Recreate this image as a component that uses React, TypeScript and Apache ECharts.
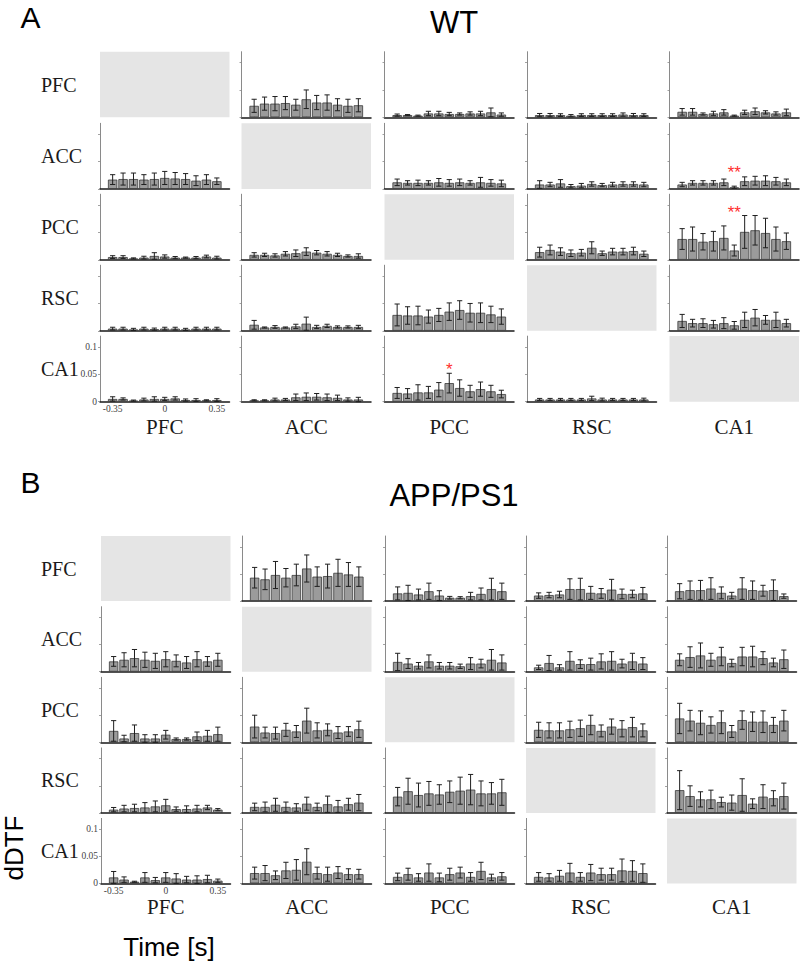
import React, { useEffect, useRef } from "react";
import * as echarts from "echarts";

// ---------- labels ----------
const regions = ["PFC", "ACC", "PCC", "RSC", "CA1"];
const timeBins = [-0.35, -0.28, -0.21, -0.14, -0.07, 0, 0.07, 0.14, 0.21, 0.28, 0.35];
const xTickValues = [-0.35, 0, 0.35];
const xTickLabels = ["-0.35", "0", "0.35"];
const yTickValues = [0, 0.05, 0.1];
const yTickLabels = ["0", "0.05", "0.1"];
const panelTitles = ["WT", "APP/PS1"];
const panelLetters = ["A", "B"];
const yAxisTitle = "dDTF";
const xAxisTitle = "Time [s]";

// ---------- WT (row region -> column region): mean and error ----------
const WT_PFC_ACC = [0.021, 0.025, 0.025, 0.026, 0.023, 0.033, 0.027, 0.027, 0.023, 0.021, 0.022];
const WT_PFC_ACC_SE = [0.012, 0.012, 0.013, 0.012, 0.010, 0.017, 0.013, 0.014, 0.011, 0.012, 0.012];
const WT_PFC_PCC = [0.004, 0.004, 0.003, 0.007, 0.007, 0.006, 0.006, 0.007, 0.007, 0.009, 0.005];
const WT_PFC_PCC_SE = [0.002, 0.001, 0.001, 0.004, 0.004, 0.003, 0.002, 0.003, 0.004, 0.008, 0.003];
const WT_PFC_RSC = [0.004, 0.004, 0.004, 0.003, 0.004, 0.004, 0.004, 0.004, 0.005, 0.004, 0.004];
const WT_PFC_RSC_SE = [0.003, 0.003, 0.0025, 0.002, 0.0025, 0.0025, 0.0025, 0.0025, 0.003, 0.003, 0.0025];
const WT_PFC_CA1 = [0.010, 0.010, 0.006, 0.007, 0.009, 0.003, 0.009, 0.011, 0.009, 0.007, 0.009];
const WT_PFC_CA1_SE = [0.006, 0.006, 0.002, 0.004, 0.005, 0.001, 0.004, 0.006, 0.003, 0.003, 0.006];

const WT_ACC_PFC = [0.017, 0.018, 0.018, 0.017, 0.018, 0.020, 0.019, 0.018, 0.015, 0.017, 0.014];
const WT_ACC_PFC_SE = [0.009, 0.011, 0.011, 0.009, 0.011, 0.012, 0.011, 0.010, 0.009, 0.009, 0.006];
const WT_ACC_PCC = [0.012, 0.011, 0.011, 0.011, 0.012, 0.011, 0.012, 0.011, 0.012, 0.011, 0.010];
const WT_ACC_PCC_SE = [0.006, 0.004, 0.005, 0.004, 0.007, 0.006, 0.006, 0.004, 0.009, 0.006, 0.006];
const WT_ACC_RSC = [0.008, 0.008, 0.010, 0.005, 0.006, 0.009, 0.007, 0.008, 0.009, 0.009, 0.008];
const WT_ACC_RSC_SE = [0.007, 0.004, 0.007, 0.003, 0.004, 0.004, 0.003, 0.004, 0.004, 0.004, 0.004];
const WT_ACC_CA1 = [0.008, 0.011, 0.011, 0.011, 0.012, 0.003, 0.014, 0.015, 0.015, 0.014, 0.012];
const WT_ACC_CA1_SE = [0.004, 0.004, 0.004, 0.004, 0.006, 0.002, 0.008, 0.008, 0.009, 0.007, 0.006];

const WT_PCC_PFC = [0.005, 0.005, 0.0025, 0.004, 0.007, 0.006, 0.004, 0.004, 0.004, 0.006, 0.004];
const WT_PCC_PFC_SE = [0.0025, 0.0025, 0.001, 0.0025, 0.006, 0.003, 0.002, 0.001, 0.002, 0.0025, 0.0025];
const WT_PCC_ACC = [0.009, 0.009, 0.008, 0.011, 0.012, 0.015, 0.013, 0.011, 0.009, 0.007, 0.007];
const WT_PCC_ACC_SE = [0.004, 0.003, 0.003, 0.004, 0.006, 0.007, 0.004, 0.004, 0.003, 0.002, 0.004];
const WT_PCC_RSC = [0.014, 0.018, 0.015, 0.012, 0.013, 0.022, 0.012, 0.015, 0.015, 0.016, 0.011];
const WT_PCC_RSC_SE = [0.009, 0.009, 0.007, 0.006, 0.006, 0.011, 0.004, 0.006, 0.006, 0.007, 0.005];
const WT_PCC_CA1 = [0.038, 0.038, 0.033, 0.034, 0.040, 0.017, 0.051, 0.054, 0.049, 0.038, 0.034];
const WT_PCC_CA1_SE = [0.019, 0.022, 0.015, 0.018, 0.022, 0.010, 0.030, 0.027, 0.027, 0.022, 0.015];

const WT_RSC_PFC = [0.004, 0.004, 0.0025, 0.004, 0.003, 0.004, 0.004, 0.0025, 0.004, 0.004, 0.004];
const WT_RSC_PFC_SE = [0.0025, 0.0025, 0.002, 0.0025, 0.002, 0.0025, 0.0025, 0.002, 0.0025, 0.0025, 0.0025];
const WT_RSC_ACC = [0.011, 0.006, 0.007, 0.006, 0.008, 0.013, 0.007, 0.009, 0.007, 0.007, 0.007];
const WT_RSC_ACC_SE = [0.008, 0.001, 0.0025, 0.001, 0.004, 0.012, 0.003, 0.003, 0.002, 0.002, 0.003];
const WT_RSC_PCC = [0.029, 0.028, 0.028, 0.026, 0.029, 0.035, 0.038, 0.033, 0.033, 0.030, 0.026];
const WT_RSC_PCC_SE = [0.020, 0.016, 0.017, 0.012, 0.012, 0.016, 0.017, 0.017, 0.018, 0.015, 0.014];
const WT_RSC_CA1 = [0.018, 0.014, 0.014, 0.012, 0.014, 0.010, 0.020, 0.024, 0.020, 0.020, 0.014];
const WT_RSC_CA1_SE = [0.012, 0.007, 0.008, 0.007, 0.010, 0.007, 0.014, 0.015, 0.008, 0.014, 0.007];

const WT_CA1_PFC = [0.005, 0.005, 0.002, 0.004, 0.005, 0.005, 0.006, 0.003, 0.003, 0.0025, 0.003];
const WT_CA1_PFC_SE = [0.004, 0.002, 0.001, 0.0025, 0.004, 0.003, 0.003, 0.002, 0.0025, 0.001, 0.0025];
const WT_CA1_ACC = [0.0025, 0.0025, 0.004, 0.004, 0.008, 0.009, 0.009, 0.008, 0.007, 0.004, 0.004];
const WT_CA1_ACC_SE = [0.001, 0.001, 0.0025, 0.002, 0.006, 0.007, 0.006, 0.006, 0.005, 0.003, 0.004];
const WT_CA1_PCC = [0.016, 0.015, 0.017, 0.017, 0.022, 0.034, 0.025, 0.019, 0.023, 0.019, 0.014];
const WT_CA1_PCC_SE = [0.010, 0.009, 0.014, 0.011, 0.013, 0.018, 0.015, 0.011, 0.013, 0.011, 0.007];
const WT_CA1_RSC = [0.004, 0.004, 0.004, 0.004, 0.004, 0.006, 0.004, 0.004, 0.004, 0.004, 0.004];
const WT_CA1_RSC_SE = [0.002, 0.002, 0.002, 0.002, 0.002, 0.004, 0.0025, 0.002, 0.002, 0.002, 0.0025];

// ---------- APP/PS1 ----------
const AD_PFC_ACC = [0.043, 0.040, 0.048, 0.043, 0.048, 0.060, 0.045, 0.046, 0.052, 0.049, 0.045];
const AD_PFC_ACC_SE = [0.019, 0.019, 0.025, 0.017, 0.020, 0.025, 0.018, 0.022, 0.025, 0.022, 0.018];
const AD_PFC_PCC = [0.014, 0.015, 0.012, 0.018, 0.010, 0.006, 0.006, 0.009, 0.013, 0.022, 0.018];
const AD_PFC_PCC_SE = [0.012, 0.014, 0.010, 0.015, 0.009, 0.0025, 0.002, 0.007, 0.011, 0.020, 0.015];
const AD_PFC_RSC = [0.010, 0.011, 0.012, 0.022, 0.022, 0.015, 0.014, 0.021, 0.013, 0.013, 0.014];
const AD_PFC_RSC_SE = [0.005, 0.005, 0.006, 0.019, 0.020, 0.012, 0.009, 0.019, 0.009, 0.007, 0.011];
const AD_PFC_CA1 = [0.018, 0.020, 0.020, 0.023, 0.015, 0.010, 0.023, 0.020, 0.019, 0.020, 0.009];
const AD_PFC_CA1_SE = [0.014, 0.017, 0.018, 0.020, 0.011, 0.006, 0.020, 0.017, 0.010, 0.019, 0.004];

const AD_ACC_PFC = [0.019, 0.022, 0.025, 0.022, 0.020, 0.023, 0.020, 0.017, 0.023, 0.019, 0.022];
const AD_ACC_PFC_SE = [0.009, 0.013, 0.016, 0.014, 0.014, 0.014, 0.011, 0.011, 0.014, 0.009, 0.012];
const AD_ACC_PCC = [0.018, 0.015, 0.011, 0.019, 0.011, 0.011, 0.010, 0.015, 0.015, 0.022, 0.017];
const AD_ACC_PCC_SE = [0.016, 0.009, 0.006, 0.012, 0.006, 0.006, 0.004, 0.011, 0.008, 0.019, 0.014];
const AD_ACC_RSC = [0.008, 0.016, 0.008, 0.020, 0.014, 0.014, 0.019, 0.020, 0.015, 0.019, 0.015];
const AD_ACC_RSC_SE = [0.004, 0.014, 0.005, 0.017, 0.008, 0.011, 0.014, 0.017, 0.008, 0.015, 0.011];
const AD_ACC_CA1 = [0.022, 0.027, 0.030, 0.022, 0.028, 0.016, 0.028, 0.028, 0.025, 0.017, 0.023];
const AD_ACC_CA1_SE = [0.011, 0.019, 0.023, 0.012, 0.017, 0.007, 0.017, 0.019, 0.012, 0.008, 0.017];

const AD_PCC_PFC = [0.021, 0.007, 0.017, 0.007, 0.007, 0.014, 0.006, 0.006, 0.011, 0.012, 0.015];
const AD_PCC_PFC_SE = [0.019, 0.006, 0.015, 0.007, 0.007, 0.008, 0.002, 0.002, 0.008, 0.010, 0.013];
const AD_PCC_ACC = [0.029, 0.018, 0.017, 0.023, 0.020, 0.040, 0.022, 0.023, 0.018, 0.020, 0.024];
const AD_PCC_ACC_SE = [0.021, 0.010, 0.011, 0.012, 0.011, 0.023, 0.014, 0.011, 0.011, 0.009, 0.015];
const AD_PCC_RSC = [0.023, 0.022, 0.022, 0.024, 0.026, 0.032, 0.021, 0.029, 0.025, 0.028, 0.022];
const AD_PCC_RSC_SE = [0.014, 0.014, 0.014, 0.015, 0.015, 0.018, 0.011, 0.014, 0.015, 0.018, 0.012];
const AD_PCC_CA1 = [0.044, 0.040, 0.036, 0.032, 0.037, 0.020, 0.041, 0.038, 0.038, 0.032, 0.040];
const AD_PCC_CA1_SE = [0.028, 0.019, 0.022, 0.015, 0.021, 0.011, 0.017, 0.018, 0.020, 0.014, 0.019];

const AD_RSC_PFC = [0.006, 0.008, 0.009, 0.010, 0.012, 0.014, 0.007, 0.007, 0.008, 0.010, 0.006];
const AD_RSC_PFC_SE = [0.004, 0.006, 0.007, 0.009, 0.010, 0.011, 0.004, 0.006, 0.006, 0.004, 0.002];
const AD_RSC_ACC = [0.011, 0.011, 0.015, 0.011, 0.010, 0.017, 0.011, 0.016, 0.012, 0.016, 0.019];
const AD_RSC_ACC_SE = [0.007, 0.009, 0.012, 0.009, 0.007, 0.012, 0.007, 0.015, 0.011, 0.011, 0.015];
const AD_RSC_PCC = [0.030, 0.040, 0.033, 0.036, 0.034, 0.039, 0.041, 0.043, 0.036, 0.036, 0.038];
const AD_RSC_PCC_SE = [0.017, 0.024, 0.022, 0.022, 0.018, 0.020, 0.025, 0.028, 0.023, 0.020, 0.024];
const AD_RSC_CA1 = [0.042, 0.031, 0.025, 0.025, 0.020, 0.019, 0.033, 0.017, 0.030, 0.027, 0.031];
const AD_RSC_CA1_SE = [0.036, 0.019, 0.014, 0.017, 0.009, 0.014, 0.030, 0.009, 0.022, 0.014, 0.024];

const AD_CA1_PFC = [0.011, 0.007, 0.003, 0.011, 0.006, 0.011, 0.009, 0.007, 0.007, 0.008, 0.005];
const AD_CA1_PFC_SE = [0.011, 0.005, 0.001, 0.009, 0.005, 0.009, 0.009, 0.006, 0.007, 0.007, 0.003];
const AD_CA1_ACC = [0.019, 0.019, 0.015, 0.024, 0.025, 0.040, 0.019, 0.017, 0.020, 0.017, 0.017];
const AD_CA1_ACC_SE = [0.011, 0.014, 0.008, 0.015, 0.019, 0.024, 0.011, 0.013, 0.011, 0.010, 0.009];
const AD_CA1_PCC = [0.012, 0.017, 0.011, 0.020, 0.011, 0.017, 0.020, 0.012, 0.023, 0.011, 0.013];
const AD_CA1_PCC_SE = [0.007, 0.011, 0.007, 0.016, 0.008, 0.011, 0.010, 0.008, 0.016, 0.006, 0.007];
const AD_CA1_RSC = [0.012, 0.011, 0.014, 0.020, 0.012, 0.020, 0.017, 0.017, 0.024, 0.023, 0.019];
const AD_CA1_RSC_SE = [0.008, 0.007, 0.010, 0.017, 0.008, 0.015, 0.011, 0.011, 0.021, 0.019, 0.017];

// significance marks: [row region, column region, bin index, mark]
const WT_STARS: [string, string, number, string][] = [
  ["ACC", "CA1", 5, "**"],
  ["PCC", "CA1", 5, "**"],
  ["CA1", "PCC", 5, "*"],
];
const AD_STARS: [string, string, number, string][] = [];

// lookup tables built from the named arrays
const WT_TABLE: Record<string, [number[], number[]]> = {
  PFC_ACC: [WT_PFC_ACC, WT_PFC_ACC_SE], PFC_PCC: [WT_PFC_PCC, WT_PFC_PCC_SE],
  PFC_RSC: [WT_PFC_RSC, WT_PFC_RSC_SE], PFC_CA1: [WT_PFC_CA1, WT_PFC_CA1_SE],
  ACC_PFC: [WT_ACC_PFC, WT_ACC_PFC_SE], ACC_PCC: [WT_ACC_PCC, WT_ACC_PCC_SE],
  ACC_RSC: [WT_ACC_RSC, WT_ACC_RSC_SE], ACC_CA1: [WT_ACC_CA1, WT_ACC_CA1_SE],
  PCC_PFC: [WT_PCC_PFC, WT_PCC_PFC_SE], PCC_ACC: [WT_PCC_ACC, WT_PCC_ACC_SE],
  PCC_RSC: [WT_PCC_RSC, WT_PCC_RSC_SE], PCC_CA1: [WT_PCC_CA1, WT_PCC_CA1_SE],
  RSC_PFC: [WT_RSC_PFC, WT_RSC_PFC_SE], RSC_ACC: [WT_RSC_ACC, WT_RSC_ACC_SE],
  RSC_PCC: [WT_RSC_PCC, WT_RSC_PCC_SE], RSC_CA1: [WT_RSC_CA1, WT_RSC_CA1_SE],
  CA1_PFC: [WT_CA1_PFC, WT_CA1_PFC_SE], CA1_ACC: [WT_CA1_ACC, WT_CA1_ACC_SE],
  CA1_PCC: [WT_CA1_PCC, WT_CA1_PCC_SE], CA1_RSC: [WT_CA1_RSC, WT_CA1_RSC_SE],
};
const AD_TABLE: Record<string, [number[], number[]]> = {
  PFC_ACC: [AD_PFC_ACC, AD_PFC_ACC_SE], PFC_PCC: [AD_PFC_PCC, AD_PFC_PCC_SE],
  PFC_RSC: [AD_PFC_RSC, AD_PFC_RSC_SE], PFC_CA1: [AD_PFC_CA1, AD_PFC_CA1_SE],
  ACC_PFC: [AD_ACC_PFC, AD_ACC_PFC_SE], ACC_PCC: [AD_ACC_PCC, AD_ACC_PCC_SE],
  ACC_RSC: [AD_ACC_RSC, AD_ACC_RSC_SE], ACC_CA1: [AD_ACC_CA1, AD_ACC_CA1_SE],
  PCC_PFC: [AD_PCC_PFC, AD_PCC_PFC_SE], PCC_ACC: [AD_PCC_ACC, AD_PCC_ACC_SE],
  PCC_RSC: [AD_PCC_RSC, AD_PCC_RSC_SE], PCC_CA1: [AD_PCC_CA1, AD_PCC_CA1_SE],
  RSC_PFC: [AD_RSC_PFC, AD_RSC_PFC_SE], RSC_ACC: [AD_RSC_ACC, AD_RSC_ACC_SE],
  RSC_PCC: [AD_RSC_PCC, AD_RSC_PCC_SE], RSC_CA1: [AD_RSC_CA1, AD_RSC_CA1_SE],
  CA1_PFC: [AD_CA1_PFC, AD_CA1_PFC_SE], CA1_ACC: [AD_CA1_ACC, AD_CA1_ACC_SE],
  CA1_PCC: [AD_CA1_PCC, AD_CA1_PCC_SE], CA1_RSC: [AD_CA1_RSC, AD_CA1_RSC_SE],
};

// ---------- layout (pixels) ----------
const PANELS = [
  {
    table: WT_TABLE, stars: WT_STARS,
    colLeft: [100, 241.5, 384.5, 527, 669.5], rowTop: [51.7, 123.3, 194.2, 265.2, 336.1],
    cellW: 129.5, cellH: 65.6, titleY: 22, letterY: 17, colLabelY: 426.5,
  },
  {
    table: AD_TABLE, stars: AD_STARS,
    colLeft: [101, 242, 385, 526, 667], rowTop: [536, 606.7, 677.3, 747.9, 818.4],
    cellW: 129.5, cellH: 65, titleY: 495, letterY: 482, colLabelY: 907,
  },
];

const X_MIN = -0.435;
const X_MAX = 0.435;
const Y_MAX = 0.12;
const SERIF = "'Liberation Serif', 'Times New Roman', serif";
const SANS = "'Liberation Sans', Arial, sans-serif";

function findLabel(values: number[], labels: string[], v: number) {
  const i = values.findIndex((t) => Math.abs(t - v) < 1e-9);
  return i >= 0 ? labels[i] : "";
}

function buildOption() {
  const grid: any[] = [];
  const xAxis: any[] = [];
  const yAxis: any[] = [];
  const series: any[] = [];
  const graphic: any[] = [];

  PANELS.forEach((P, p) => {
    graphic.push({
      type: "text", x: 30.5, y: P.letterY,
      style: { text: panelLetters[p], font: `30px ${SANS}`, fill: "#000", textAlign: "center", textVerticalAlign: "middle" },
    });
    graphic.push({
      type: "text", x: 454, y: P.titleY,
      style: { text: panelTitles[p], font: `31px ${SANS}`, fill: "#000", textAlign: "center", textVerticalAlign: "middle" },
    });

    regions.forEach((rowName, r) => {
      graphic.push({
        type: "text", x: 41, y: P.rowTop[r] + P.cellH / 2,
        style: { text: rowName, font: `20px ${SERIF}`, fill: "#1a1a1a", textAlign: "left", textVerticalAlign: "middle" },
      });
      regions.forEach((colName, c) => {
        const gi = grid.length;
        const diag = r === c;
        const showLabels = r === regions.length - 1 && c === 0;
        grid.push({
          left: P.colLeft[c], top: P.rowTop[r], width: P.cellW, height: P.cellH,
          show: diag, backgroundColor: "#e5e5e5", borderWidth: 0,
        });
        xAxis.push({
          gridIndex: gi, type: "value", min: X_MIN, max: X_MAX, show: !diag,
          axisLine: { show: true, onZero: false, lineStyle: { color: "#1a1a1a", width: 1.5 } },
          axisTick: { show: true, inside: true, length: 2, customValues: xTickValues, lineStyle: { color: "#555", width: 0.8 } },
          axisLabel: {
            show: showLabels, customValues: xTickValues, margin: 2.5,
            formatter: (v: number) => findLabel(xTickValues, xTickLabels, v),
            fontFamily: SERIF, fontSize: 9.5, color: "#444",
          },
          splitLine: { show: false },
        });
        yAxis.push({
          gridIndex: gi, type: "value", min: 0, max: Y_MAX, show: !diag,
          axisLine: { show: true, onZero: false, lineStyle: { color: "#8a8a8a", width: 1 } },
          axisTick: { show: true, length: 2, customValues: yTickValues, lineStyle: { color: "#8a8a8a", width: 0.8 } },
          axisLabel: {
            show: showLabels, customValues: yTickValues, margin: 3,
            formatter: (v: number) => findLabel(yTickValues, yTickLabels, v),
            fontFamily: SERIF, fontSize: 9.5, color: "#444",
          },
          splitLine: { show: false },
        });
        if (diag) return;
        const entry = P.table[`${rowName}_${colName}`];
        if (!entry) return;
        const [mean, se] = entry;
        series.push({
          type: "bar", xAxisIndex: gi, yAxisIndex: gi, silent: true,
          barWidth: 9.4,
          data: timeBins.map((t, i) => [t, mean[i]]),
          itemStyle: { color: "#9b9b9b", borderColor: "#3a3a3a", borderWidth: 0.8 },
        });
        series.push({
          type: "custom", xAxisIndex: gi, yAxisIndex: gi, silent: true, z: 5,
          data: timeBins.map((t, i) => [t, Math.max(0, mean[i] - se[i]), mean[i] + se[i]]),
          encode: { x: 0, y: [1, 2] },
          renderItem: (params: any, api: any) => {
            const x = api.value(0);
            const hi = api.coord([x, api.value(2)]);
            const lo = api.coord([x, api.value(1)]);
            const hw = 2.6;
            const st = { stroke: "#1f1f1f", lineWidth: 1 };
            return {
              type: "group",
              children: [
                { type: "line", shape: { x1: hi[0], y1: hi[1], x2: lo[0], y2: lo[1] }, style: st },
                { type: "line", shape: { x1: hi[0] - hw, y1: hi[1], x2: hi[0] + hw, y2: hi[1] }, style: st },
                { type: "line", shape: { x1: lo[0] - hw, y1: lo[1], x2: lo[0] + hw, y2: lo[1] }, style: st },
              ],
            };
          },
        });
        const stars = P.stars.filter((s) => s[0] === rowName && s[1] === colName);
        if (stars.length) {
          const maxTop = Math.max(...mean.map((m, i) => m + se[i]));
          series.push({
            type: "custom", xAxisIndex: gi, yAxisIndex: gi, silent: true, z: 6,
            data: stars.map((s) => [timeBins[s[2]], maxTop]),
            renderItem: (params: any, api: any) => {
              const pt = api.coord([api.value(0), api.value(1)]);
              const s = stars[params.dataIndex][3];
              return {
                type: "text", x: pt[0], y: pt[1] - 3.5,
                style: { text: s, font: `17px ${SANS}`, fill: "#ff3030", textAlign: "center", textVerticalAlign: "middle" },
              };
            },
          });
        }
      });
    });

    regions.forEach((colName, c) => {
      graphic.push({
        type: "text", x: P.colLeft[c] + P.cellW / 2, y: P.colLabelY,
        style: { text: colName, font: `21px ${SERIF}`, fill: "#1a1a1a", textAlign: "center", textVerticalAlign: "middle" },
      });
    });
  });

  graphic.push({
    type: "text", x: 14, y: 848, rotation: Math.PI / 2,
    style: { text: yAxisTitle, font: `26px ${SANS}`, fill: "#000", textAlign: "center", textVerticalAlign: "middle" },
  });
  graphic.push({
    type: "text", x: 169, y: 947,
    style: { text: xAxisTitle, font: `26px ${SANS}`, fill: "#000", textAlign: "center", textVerticalAlign: "middle" },
  });

  return { animation: false, backgroundColor: "#ffffff", grid, xAxis, yAxis, series, graphic };
}

export default function App() {
  const ref = useRef<HTMLDivElement>(null);
  useEffect(() => {
    if (!ref.current) return;
    const chart = echarts.init(ref.current, undefined, { renderer: "svg" });
    chart.setOption(buildOption() as any);
    return () => chart.dispose();
  }, []);
  return (
    <div
      ref={ref}
      style={{ position: "absolute", left: 0, top: 0, width: 800, height: 962, background: "#fff" }}
    />
  );
}
